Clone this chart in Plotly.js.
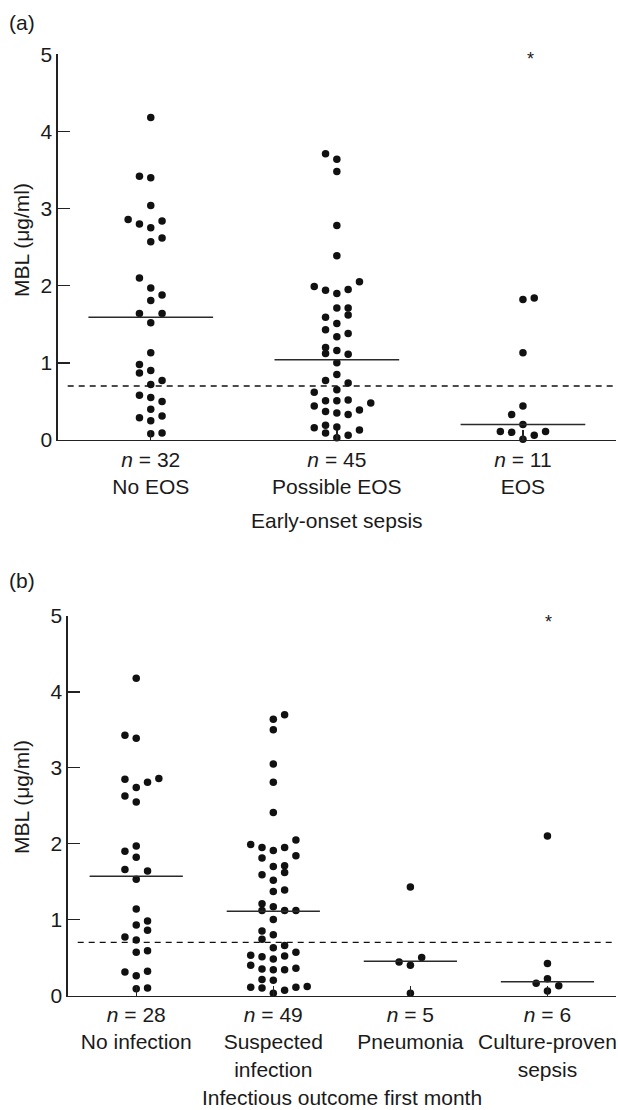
<!DOCTYPE html>
<html>
<head>
<meta charset="utf-8">
<script src="https://cdn.plot.ly/plotly-3.0.1.min.js"></script>
<style>html,body{margin:0;padding:0;background:#fff}#chart{width:618px;height:1110px}</style>
</head>
<body>
<div id="chart"></div>
<script>
// ---------- Panel (a): Early-onset sepsis ----------
const catsA = ['No EOS', 'Possible EOS', 'EOS'];
const nA = [32, 45, 11];
const mblNoEOS = [4.18,3.42,3.40,3.04,2.86,2.80,2.75,2.84,2.62,2.57,2.10,1.97,1.88,1.81,1.64,1.64,1.52,1.13,0.98,0.87,0.90,0.77,0.72,0.58,0.55,0.50,0.40,0.29,0.25,0.31,0.08,0.09];
const slotNoEOS = [0,-1,0,0,-2,-1,0,1,1,0,-1,0,1,0,-1,1,0,0,-1,-1,0,1,0,-1,0,1,0,-1,0,1,0,1];
const mblPossibleEOS = [3.71,3.64,3.48,2.78,2.39,1.99,1.94,1.90,1.95,2.05,1.71,1.71,1.62,1.59,1.51,1.43,1.38,1.34,1.20,1.12,1.16,1.11,1.00,0.85,0.77,0.74,0.62,0.65,0.51,0.51,0.52,0.48,0.44,0.37,0.35,0.33,0.39,0.16,0.19,0.17,0.09,0.03,0.06,0.13];
const slotPossibleEOS = [-1,0,0,0,0,-2,-1,0,1,2,0,1,1,-1,0,-1,1,0,-1,-1,0,1,0,0,-1,1,-2,0,-1,0,1,3,-2,-1,0,1,2,-2,-1,0,-1,0,1,2];
const mblEOS = [1.82,1.84,1.13,0.44,0.33,0.20,0.11,0.10,0.06,0.11,0.01];
const slotEOS = [0,1,0,0,-1,0,-2,-1,1,2,0];
const medianA = [1.59, 1.04, 0.20];
const outlierA = {cat: 2, value: 5};

// ---------- Panel (b): Infectious outcome first month ----------
const catsB = ['No infection', 'Suspected<br>infection', 'Pneumonia', 'Culture-proven<br>sepsis'];
const nB = [28, 49, 5, 6];
const mblNoInf = [4.18,3.43,3.39,2.85,2.74,2.81,2.86,2.63,2.55,1.97,1.90,1.82,1.66,1.64,1.53,1.14,0.93,0.98,0.86,0.77,0.73,0.57,0.59,0.31,0.26,0.32,0.09,0.10];
const slotNoInf = [0,-1,0,-1,0,1,2,-1,0,0,-1,0,-1,1,0,0,0,1,1,-1,0,0,1,-1,0,1,0,1];
const mblSuspected = [3.64,3.70,3.50,3.05,2.81,2.41,1.99,1.95,1.91,1.95,2.05,1.81,1.84,1.70,1.71,1.62,1.59,1.52,1.37,1.39,1.21,1.12,1.17,1.12,1.12,1.00,0.85,0.80,0.74,0.63,0.66,0.53,0.51,0.48,0.52,0.57,0.40,0.35,0.34,0.34,0.36,0.21,0.20,0.11,0.10,0.03,0.07,0.11,0.12];
const slotSuspected = [0,1,0,0,0,0,-2,-1,0,1,2,-1,2,0,1,1,-1,0,0,1,-1,-1,0,1,2,0,-1,0,-1,0,1,-2,-1,0,1,2,-2,-1,0,1,2,-1,0,-2,-1,0,1,2,3];
const mblPneumonia = [1.43,0.44,0.40,0.50,0.03];
const slotPneumonia = [0,-1,0,1,0];
const mblCulture = [2.10,0.42,0.22,0.16,0.13,0.06];
const slotCulture = [0,0,0,-1,1,0];
const medianB = [1.57, 1.11, 0.45, 0.18];
const outlierB = {cat: 3, value: 5};

const cutoff = 0.7;
const yTicks = [0, 1, 2, 3, 4, 5];

// ---------- layout geometry ----------
const W = 618, H = 1110;
const FONT = 'Liberation Sans, Arial, Helvetica, sans-serif';
const INK = '#1a1a1a';
const FS = 21;
const pxA = {l: 57.7, r: 616, top: 54.3, bot: 440};
const pxB = {l: 67.7, r: 616, top: 616, bot: 995.5};
const dom = (a, b, tot) => [a / tot, b / tot];
const unitA = (pxA.r - pxA.l) / catsA.length;
const unitB = (pxB.r - pxB.l) / catsB.length;
const dotStepPx = 11.3;
const dashGapPx = 10;

function groupTrace(vals, slots, cat, unit, xa, ya) {
  return {
    type: 'scatter', mode: 'markers', xaxis: xa, yaxis: ya,
    x: vals.map((v, i) => cat + slots[i] * dotStepPx / unit),
    y: vals,
    marker: {size: 7.5, color: '#111', line: {width: 0}},
    cliponaxis: false, showlegend: false, hoverinfo: 'skip'
  };
}

const traces = [
  groupTrace(mblNoEOS, slotNoEOS, 0, unitA, 'x', 'y'),
  groupTrace(mblPossibleEOS, slotPossibleEOS, 1, unitA, 'x', 'y'),
  groupTrace(mblEOS, slotEOS, 2, unitA, 'x', 'y'),
  groupTrace(mblNoInf, slotNoInf, 0, unitB, 'x2', 'y2'),
  groupTrace(mblSuspected, slotSuspected, 1, unitB, 'x2', 'y2'),
  groupTrace(mblPneumonia, slotPneumonia, 2, unitB, 'x2', 'y2'),
  groupTrace(mblCulture, slotCulture, 3, unitB, 'x2', 'y2')
];

const shapes = [];
medianA.forEach((m, i) => shapes.push({type: 'line', xref: 'x', yref: 'y', x0: i - 0.335, x1: i + 0.335, y0: m, y1: m, line: {color: '#2a2a2a', width: 1.5}}));
medianB.forEach((m, i) => shapes.push({type: 'line', xref: 'x2', yref: 'y2', x0: i - 0.34, x1: i + 0.34, y0: m, y1: m, line: {color: '#2a2a2a', width: 1.5}}));
shapes.push({type: 'line', xref: 'x', yref: 'y', x0: -0.5 + dashGapPx / unitA, x1: catsA.length - 0.5, y0: cutoff, y1: cutoff, line: {color: '#111', width: 1.3, dash: '6px,5px'}});
shapes.push({type: 'line', xref: 'x2', yref: 'y2', x0: -0.5 + dashGapPx / unitB, x1: catsB.length - 0.5, y0: cutoff, y1: cutoff, line: {color: '#111', width: 1.3, dash: '6px,5px'}});

function xAxis(domPx, cats, ns) {
  return {
    domain: dom(domPx.l, domPx.r, W), range: [-0.5, cats.length - 0.5],
    showline: true, linecolor: '#222', linewidth: 1.3, mirror: false,
    ticks: 'inside', ticklen: 10, tickwidth: 1.3, tickcolor: '#222',
    tickvals: cats.map((c, i) => i),
    ticktext: cats.map((c, i) => '<i>n</i> = ' + ns[i] + '<br>' + c),
    tickfont: {family: FONT, size: FS, color: INK},
    showgrid: false, zeroline: false, fixedrange: true
  };
}
function yAxis(domPx) {
  return {
    domain: [(H - domPx.bot) / H, (H - domPx.top) / H], range: [0, 5],
    showline: true, linecolor: '#222', linewidth: 1.3,
    ticks: 'inside', ticklen: 12, tickwidth: 1.3, tickcolor: '#222',
    tickvals: yTicks, ticktext: yTicks.map(String),
    tickfont: {family: FONT, size: FS, color: INK},
    showgrid: false, zeroline: false, fixedrange: true
  };
}

const ann = (text, xpx, ypx, extra) => Object.assign({
  text: text, xref: 'paper', yref: 'paper', x: xpx / W, y: (H - ypx) / H,
  showarrow: false, font: {family: FONT, size: FS, color: INK},
  xanchor: 'center', yanchor: 'middle'
}, extra || {});

const annotations = [
  ann('(a)', 7, 22, {xanchor: 'left'}),
  ann('(b)', 7, 580, {xanchor: 'left'}),
  ann('MBL (μg/ml)', 21, 240, {textangle: -90}),
  ann('MBL (μg/ml)', 21, 797, {textangle: -90}),
  ann('Early-onset sepsis', (pxA.l + pxA.r) / 2, 520),
  ann('Infectious outcome first month', (pxB.l + pxB.r) / 2, 1097),
  {text: '*', xref: 'x', yref: 'y', x: outlierA.cat, y: outlierA.value, xshift: 8, yshift: -5, showarrow: false, font: {family: FONT, size: 18, color: INK}},
  {text: '*', xref: 'x2', yref: 'y2', x: outlierB.cat, y: outlierB.value, xshift: 1, yshift: -6, showarrow: false, font: {family: FONT, size: 18, color: INK}}
];

const layout = {
  width: W, height: H,
  margin: {l: 0, r: 0, t: 0, b: 0, pad: 0},
  paper_bgcolor: '#fff', plot_bgcolor: '#fff',
  showlegend: false,
  font: {family: FONT, size: FS, color: INK},
  xaxis: Object.assign(xAxis(pxA, catsA, nA), {anchor: 'y'}),
  yaxis: Object.assign(yAxis(pxA), {anchor: 'x'}),
  xaxis2: Object.assign(xAxis(pxB, catsB, nB), {anchor: 'y2'}),
  yaxis2: Object.assign(yAxis(pxB), {anchor: 'x2'}),
  shapes: shapes,
  annotations: annotations
};

Plotly.newPlot('chart', traces, layout, {staticPlot: true, displayModeBar: false});
</script>
</body>
</html>
